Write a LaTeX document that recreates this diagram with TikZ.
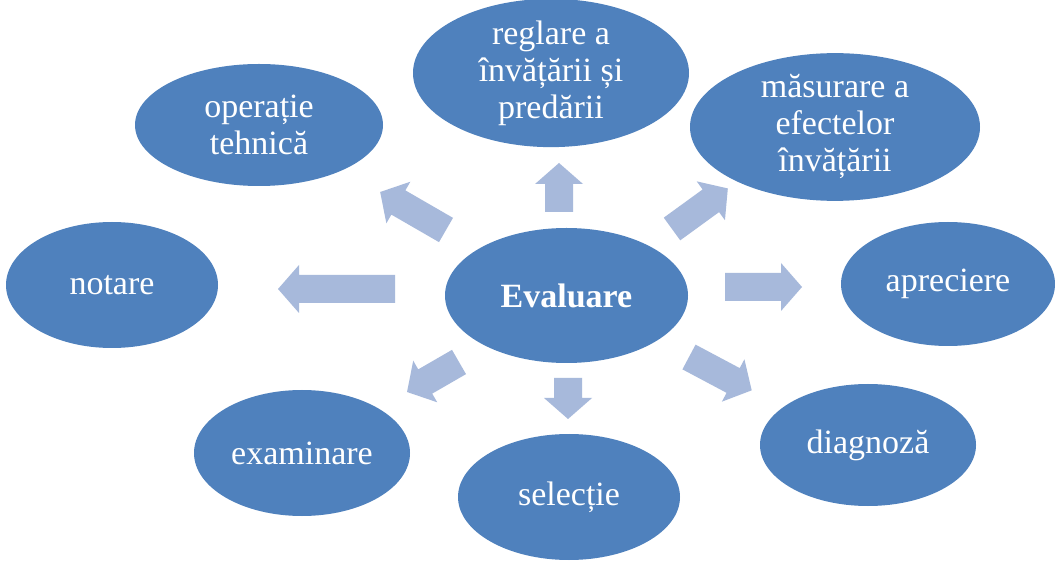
\documentclass[tikz,border=0pt]{standalone}
\usepackage{fontspec}
\setmainfont{Liberation Serif}
\usetikzlibrary{shapes.geometric}
\definecolor{ellblue}{HTML}{4F81BD}
\definecolor{arrblue}{HTML}{A7B9DB}
\tikzset{
  bubble/.style={ellipse, fill=ellblue, draw=none, inner sep=0pt, text=white,
    align=center, font=\fontsize{34}{37}\selectfont},
  arrfill/.style={fill=arrblue, draw=none}
}
\newcommand\blockarr[4]{%
  \begin{scope}[shift={(#1)},rotate=#2]
    \fill[arrfill] (0,-14) -- (#3-21,-14) -- (#3-21,-24) -- (#3,0) -- (#3-21,24) -- (#3-21,14) -- (0,14) -- cycle;
    \coordinate (#4) at (#3,0);
  \end{scope}}
\begin{document}
\begin{tikzpicture}[x=1pt,y=1pt]
\useasboundingbox (0,0) rectangle (1055,560);
\clip (0,0) rectangle (1055,560);
\fill[white] (0,0) rectangle (1055,560);
% arrows
\blockarr{395,271}{180}{117}{tipL}
\blockarr{725,273}{0}{77}{tipR}
\blockarr{559,348}{90}{49}{tipU}
\blockarr{568,182}{270}{41}{tipD}
\blockarr{446,330}{150}{76}{tipUL}
\blockarr{672,331}{36}{69}{tipUR}
\blockarr{459,198}{210}{60}{tipDL}
\blockarr{689,203}{-28}{71}{tipDR}
% ellipses
\node[bubble, minimum width=243, minimum height=135, font=\fontsize{34}{37}\selectfont\bfseries] (ev) at (566.5,264.5) {Evaluare};
\node[bubble, minimum width=248, minimum height=122] (op) at (259,435) {operație\\tehnică};
\node[bubble, minimum width=276, minimum height=122] (rg) at (551,487) {reglare a\\învățării și\\predării};
\node[bubble, minimum width=290, minimum height=122] (ms) at (835,433) {măsurare a\\efectelor\\învățării};
\node[bubble, minimum width=212, minimum height=126] (nt) at (112,275) {notare};
\node[bubble, minimum width=214, minimum height=124] (ap) at (948,276) {apreciere};
\node[bubble, minimum width=216, minimum height=126] (ex) at (302,107) {examinare};
\node[bubble, minimum width=216, minimum height=122] (dg) at (868,115) {diagnoză};
\node[bubble, minimum width=222, minimum height=126] (sl) at (569,63) {selecție};
\end{tikzpicture}
\end{document}
